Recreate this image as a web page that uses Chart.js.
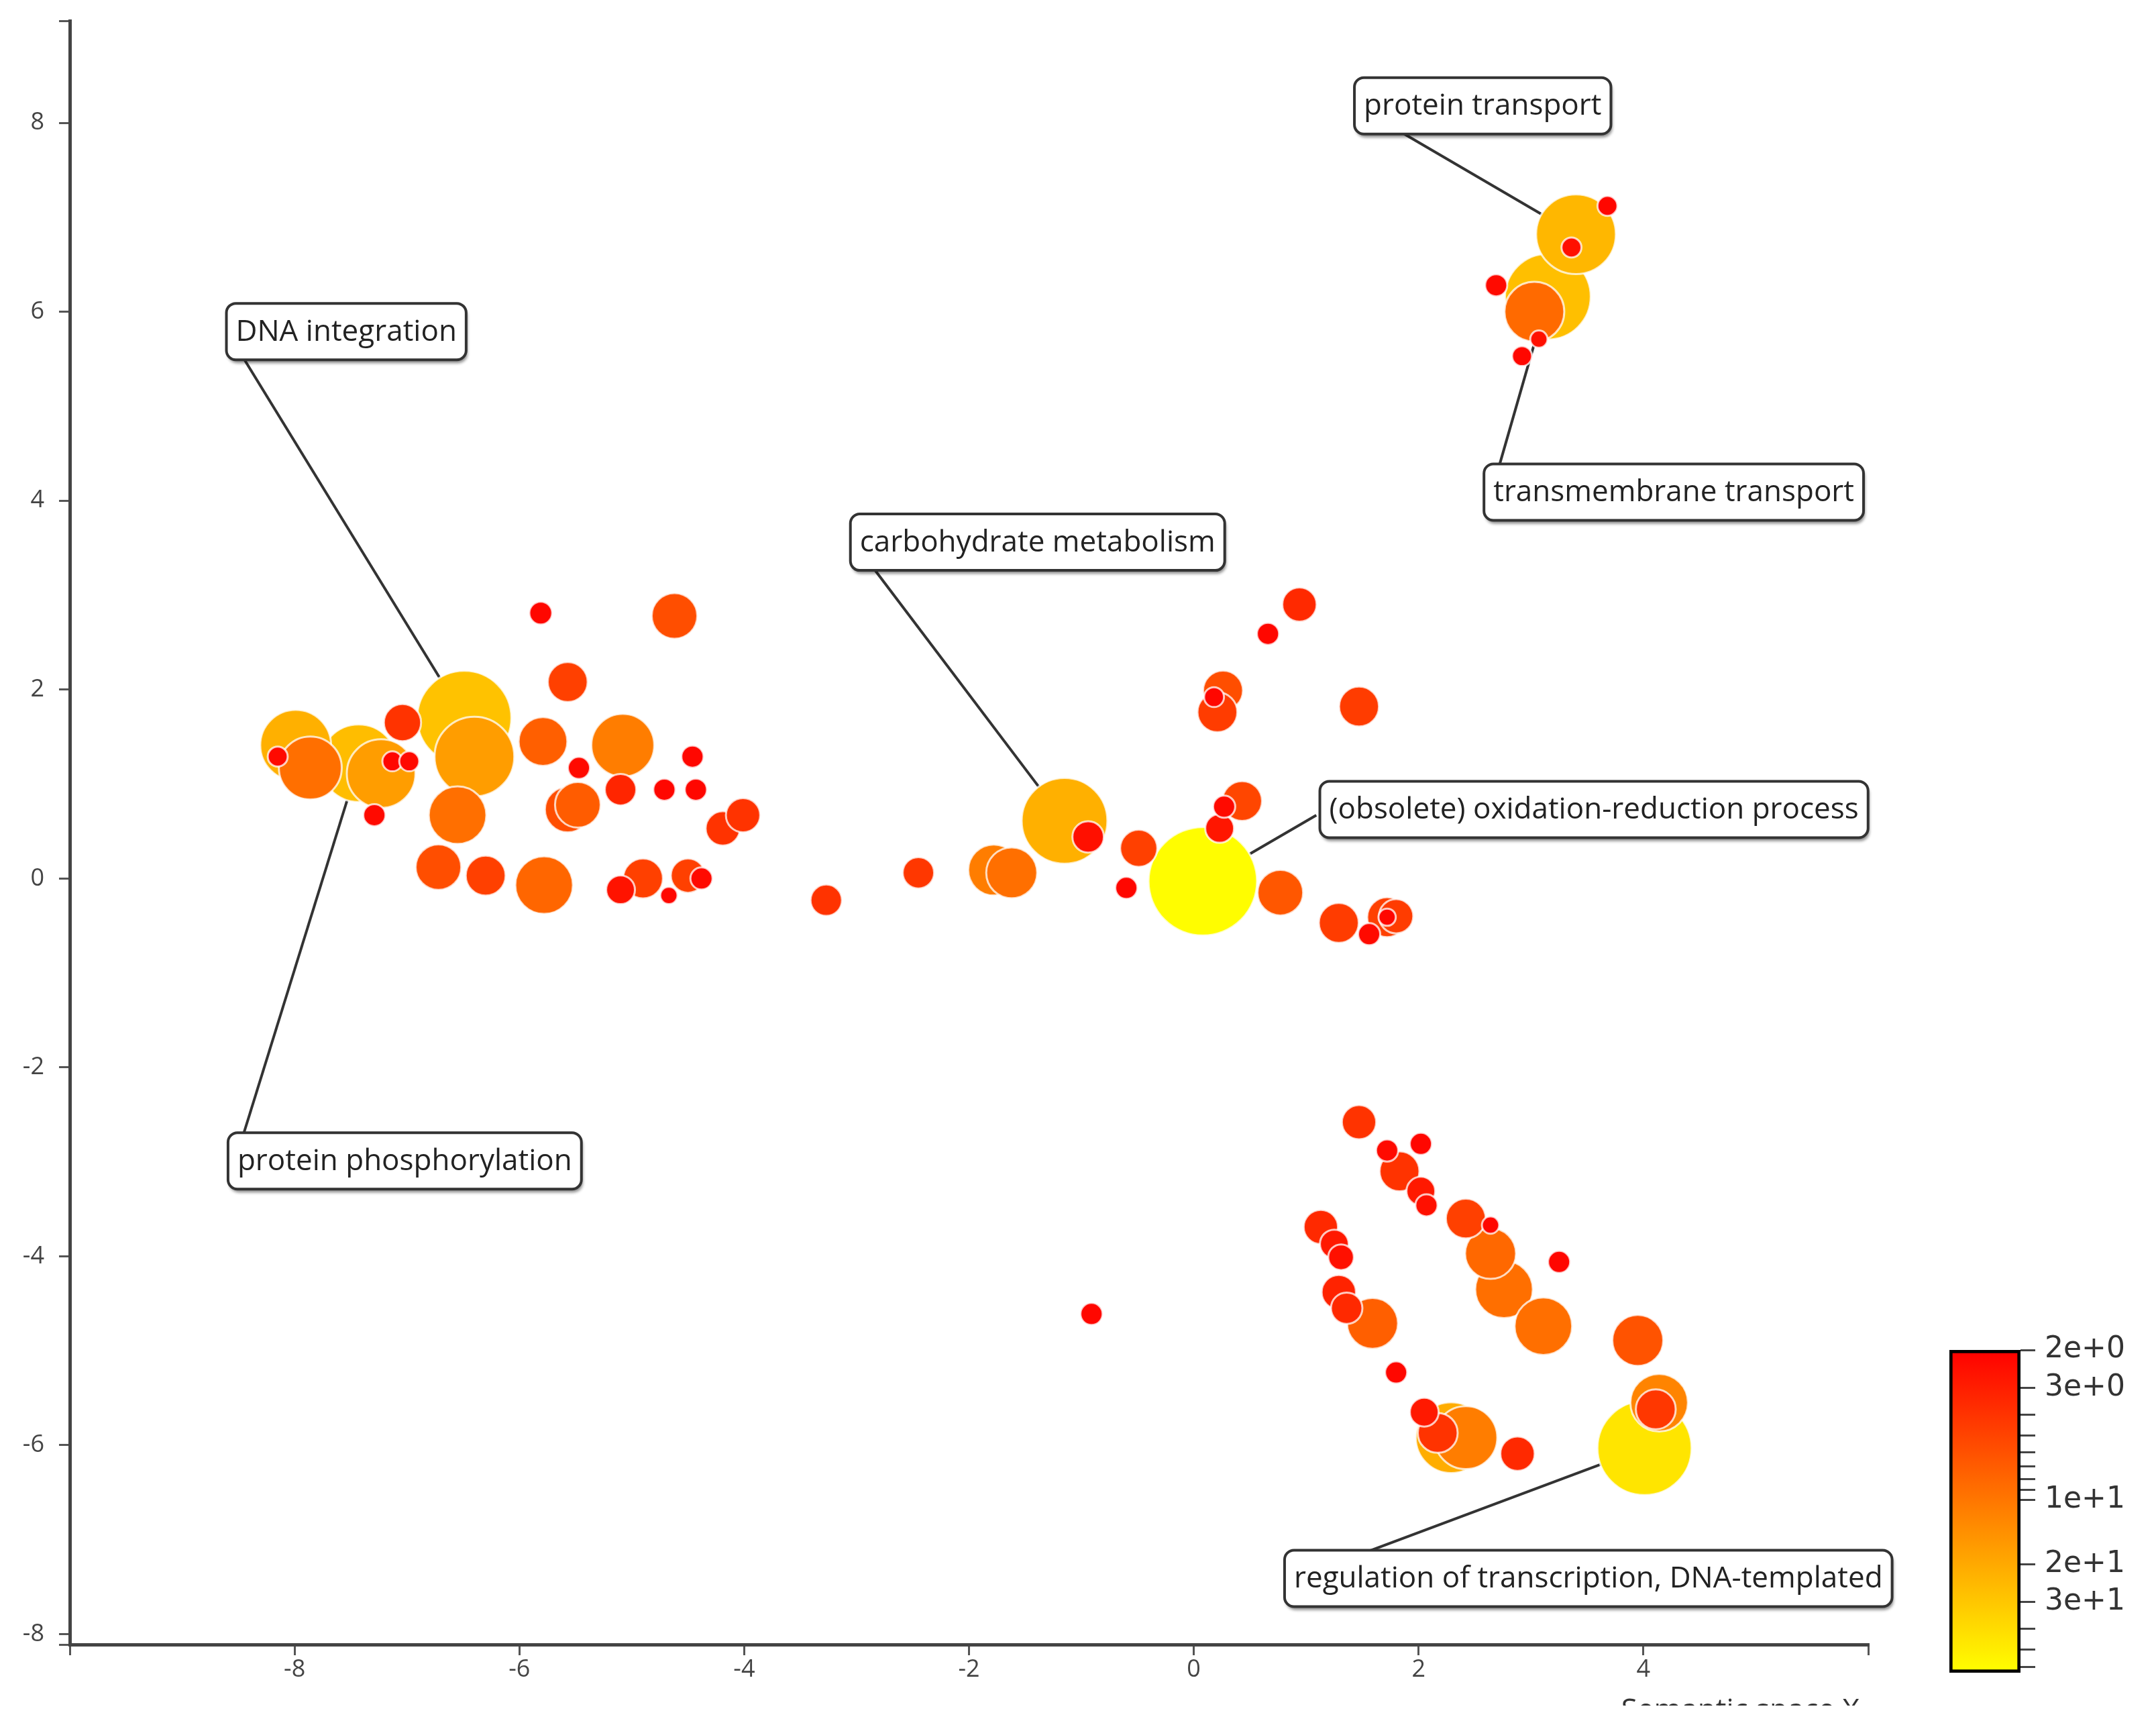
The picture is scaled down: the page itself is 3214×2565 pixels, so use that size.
<!DOCTYPE html>
<html>
<head>
<meta charset="utf-8">
<script src="https://cdn.jsdelivr.net/npm/chart.js@4.4.1/dist/chart.umd.min.js"></script>
<style>
html, body { margin: 0; padding: 0; background: #fff; }
#wrap { position: relative; width: 3214px; height: 2565px; overflow: hidden; }
#main { position: absolute; left: 0; top: 0; }
#cbar { position: absolute; left: 2870px; top: 1980px; }
</style>
</head>
<body>
<div id="wrap">
  <canvas id="main" width="3214" height="2565"></canvas>
  <canvas id="cbar" width="344" height="540"></canvas>
</div>
<script>
// semantic space coordinates of each GO term
const semX = [
  -5.81, -4.62, -5.57, -7.04, -7.99, -7.86, -8.15, -7.43, -7.23, -7.13,
  -6.98, -7.29, -6.49, -6.40, -6.55, -5.79, -5.08, -5.47, -5.57, -5.48,
  -5.10, -4.71, -4.43, -4.46, -4.19, -4.01, -6.72, -6.30, -5.78, -5.10,
  -4.90, -4.67, -4.50, -4.38, -3.27, -2.45, -1.78, -1.62, -1.15, -0.94,
  -0.49, -0.60, 0.08, 0.77, 0.43, 0.27, 0.23, 0.26, 0.21, 0.18,
  0.66, 0.94, 1.47, 1.29, 1.56, 1.72, 1.80, 1.72, 3.40, 3.15,
  3.03, 3.68, 3.36, 2.69, 2.92, 3.07, -0.91, 1.47, 1.72, 2.02,
  1.83, 2.02, 2.07, 1.13, 1.25, 1.31, 1.29, 1.36, 1.59, 2.42,
  2.64, 2.64, 2.76, 3.11, 3.25, 1.80, 2.05, 2.29, 2.42, 2.17,
  2.88, 3.95, 4.14, 4.11, 4.01
];
const semY = [
  2.81, 2.78, 2.08, 1.65, 1.41, 1.17, 1.29, 1.22, 1.11, 1.24,
  1.24, 0.67, 1.70, 1.29, 0.67, 1.45, 1.41, 1.17, 0.73, 0.78,
  0.94, 0.94, 0.94, 1.29, 0.53, 0.67, 0.12, 0.03, -0.07, -0.12,
  0.00, -0.18, 0.03, 0.00, -0.23, 0.06, 0.09, 0.06, 0.61, 0.44,
  0.32, -0.10, -0.03, -0.15, 0.82, 0.76, 0.53, 1.99, 1.76, 1.92,
  2.59, 2.90, 1.82, -0.47, -0.59, -0.41, -0.40, -0.41, 6.82, 6.16,
  6.00, 7.12, 6.68, 6.28, 5.53, 5.71, -4.61, -2.58, -2.88, -2.81,
  -3.10, -3.31, -3.46, -3.69, -3.87, -4.01, -4.38, -4.55, -4.71, -3.60,
  -3.67, -3.97, -4.35, -4.74, -4.06, -5.23, -5.65, -5.92, -5.92, -5.87,
  -6.09, -4.89, -5.55, -5.62, -6.03
];
// log10 term size -> bubble size
const logSize = [
  1.03, 2.06, 1.80, 1.68, 3.20, 2.84, 0.90, 3.50, 3.10, 0.90,
  0.90, 1.00, 4.25, 3.60, 2.60, 2.20, 2.84, 1.00, 2.06, 2.06,
  1.42, 1.00, 1.00, 1.00, 1.55, 1.55, 2.06, 1.80, 2.60, 1.30,
  1.80, 0.78, 1.55, 1.00, 1.42, 1.42, 2.30, 2.30, 3.87, 1.42,
  1.68, 1.00, 4.90, 2.06, 1.80, 1.00, 1.30, 1.80, 1.80, 0.90,
  1.00, 1.55, 1.80, 1.80, 1.00, 1.80, 1.55, 0.78, 3.60, 3.87,
  2.70, 0.90, 0.90, 1.00, 0.90, 0.78, 1.00, 1.55, 1.00, 1.00,
  1.80, 1.30, 1.00, 1.55, 1.30, 1.16, 1.55, 1.42, 2.30, 1.80,
  0.78, 2.30, 2.60, 2.60, 1.00, 1.00, 1.30, 3.20, 2.84, 1.80,
  1.55, 2.30, 2.60, 1.80, 4.25
];
// value shown by the colour bar
const colorValue = [
  2.2, 5.8, 4.8, 4.0, 22, 9.0, 2.3, 26, 17, 2.2,
  2.3, 2.3, 28, 17, 9.0, 7.3, 11, 2.3, 5.8, 7.0,
  3.3, 2.2, 2.2, 2.2, 4.0, 4.0, 5.8, 4.8, 8.0, 2.6,
  4.8, 2.2, 4.8, 2.3, 4.0, 4.2, 11, 9.0, 22, 2.5,
  4.8, 2.2, 62, 6.5, 5.2, 2.3, 2.7, 5.8, 4.5, 2.2,
  2.2, 3.5, 4.5, 4.5, 2.3, 4.8, 4.5, 2.2, 24, 27,
  8.5, 2.2, 2.5, 2.3, 2.2, 2.5, 2.2, 4.0, 2.3, 2.2,
  4.0, 2.8, 2.5, 3.5, 2.8, 2.5, 3.2, 3.5, 7.3, 4.8,
  2.2, 8.2, 9.0, 9.0, 2.2, 2.2, 2.8, 21, 11, 4.0,
  3.5, 6.2, 12, 4.2, 45
];

const xTicks = [-10, -8, -6, -4, -2, 0, 2, 4, 6];
const yTicks = [-8.11, -8, -6, -4, -2, 0, 2, 4, 6, 8, 9.08];
const cbarTicks = [2, 3, 4, 5, 6, 7, 8, 9, 10, 20, 30, 40, 50, 60];
const cbarLabels = [2, 3, 10, 20, 30];

const calloutText = [
  'protein transport',
  'DNA integration',
  'transmembrane transport',
  'carbohydrate metabolism',
  '(obsolete) oxidation-reduction process',
  'protein phosphorylation',
  'regulation of transcription, DNA-templated'
];
const calloutTarget = [58, 12, 59, 38, 42, 7, 94];

// where each callout box sits (centre) and where its line starts, in axis units
const calloutLayout = [
  { box: [2.57, 8.18], from: [1.86, 7.89] },
  { box: [-7.54, 5.79], from: [-8.45, 5.50] },
  { box: [4.27, 4.09], from: [2.72, 4.38] },
  { box: [-1.39, 3.56], from: [-2.84, 3.27] },
  { box: [3.56, 0.73], from: [1.09, 0.67] },
  { box: [-7.02, -2.99], from: [-8.45, -2.69] },
  { box: [3.51, -7.41], from: [1.56, -7.12] }
];

const CBAR_MIN = 2, CBAR_MAX = 64;
const FONT = "'Open Sans', 'DejaVu Sans', sans-serif";

function colorFor(v) {
  let t = Math.log(v / CBAR_MIN) / Math.log(CBAR_MAX / CBAR_MIN);
  t = Math.max(0, Math.min(1, t));
  return 'rgb(255,' + Math.round(255 * t) + ',0)';
}

// big bubbles first so the small ones stay visible on top
const points = semX.map((x, i) => ({ x: x, y: semY[i], r: logSize[i] * 16.5, v: colorValue[i] }))
  .sort((a, b) => b.r - a.r);

function noPadding(s) {
  s.paddingTop = 0;
  s.paddingBottom = 0;
  s.paddingLeft = 0;
  s.paddingRight = 0;
}

const calloutPlugin = {
  id: 'callouts',
  beforeDatasetsDraw(chart) {
    const { ctx, scales: { x, y } } = chart;
    ctx.save();
    ctx.strokeStyle = '#333';
    ctx.lineWidth = 4;
    calloutLayout.forEach((c, i) => {
      const t = calloutTarget[i];
      ctx.beginPath();
      ctx.moveTo(x.getPixelForValue(c.from[0]), y.getPixelForValue(c.from[1]));
      ctx.lineTo(x.getPixelForValue(semX[t]), y.getPixelForValue(semY[t]));
      ctx.stroke();
    });
    ctx.restore();
  },
  afterDatasetsDraw(chart) {
    const { ctx, scales: { x, y } } = chart;
    ctx.save();
    ctx.font = '44px ' + FONT;
    calloutLayout.forEach((c, i) => {
      const w = ctx.measureText(calloutText[i]).width + 28;
      const h = 84;
      const cx = x.getPixelForValue(c.box[0]);
      const cy = y.getPixelForValue(c.box[1]);
      ctx.beginPath();
      ctx.roundRect(cx - w / 2, cy - h / 2, w, h, 14);
      ctx.shadowColor = 'rgba(0,0,0,0.45)';
      ctx.shadowOffsetX = 2;
      ctx.shadowOffsetY = 5;
      ctx.shadowBlur = 4;
      ctx.fillStyle = '#fff';
      ctx.fill();
      ctx.shadowColor = 'transparent';
      ctx.strokeStyle = '#333';
      ctx.lineWidth = 4;
      ctx.stroke();
      ctx.fillStyle = '#222';
      ctx.textAlign = 'center';
      ctx.textBaseline = 'middle';
      ctx.fillText(calloutText[i], cx, cy + 1);
    });
    ctx.restore();
  },
  afterDraw(chart) {
    // axis title, cut off at the bottom like the original
    const ctx = chart.ctx;
    ctx.save();
    ctx.beginPath();
    ctx.rect(0, 0, chart.width, 2542);
    ctx.clip();
    ctx.font = '44px ' + FONT;
    ctx.fillStyle = '#333';
    ctx.textAlign = 'right';
    ctx.textBaseline = 'alphabetic';
    ctx.fillText('Semantic space X', 2772, 2563);
    ctx.restore();
  }
};

const axisGrid = { display: true, drawOnChartArea: false, drawTicks: true, tickLength: 16, lineWidth: 3, color: '#555' };
const axisBorder = { display: true, color: '#444', width: 5 };

new Chart(document.getElementById('main'), {
  type: 'bubble',
  data: {
    datasets: [{
      data: points,
      backgroundColor: points.map(p => colorFor(p.v)),
      borderColor: 'rgba(255,255,255,0.75)',
      borderWidth: 3
    }]
  },
  options: {
    responsive: false,
    animation: false,
    devicePixelRatio: 1,
    layout: { autoPadding: false, padding: { left: 0, top: 31, right: 429, bottom: 0 } },
    plugins: { legend: { display: false }, tooltip: { enabled: false } },
    scales: {
      x: {
        type: 'linear',
        min: xTicks[0],
        max: xTicks[xTicks.length - 1],
        afterBuildTicks: s => { s.ticks = xTicks.map(v => ({ value: v })); },
        afterFit: s => { s.height = 114; noPadding(s); },
        ticks: {
          font: { family: FONT, size: 36 },
          color: '#444',
          padding: 0,
          callback: v => (v === xTicks[0] || v === xTicks[xTicks.length - 1]) ? '' : String(v)
        },
        grid: axisGrid,
        border: axisBorder
      },
      y: {
        type: 'linear',
        min: yTicks[0],
        max: yTicks[yTicks.length - 1],
        afterBuildTicks: s => { s.ticks = yTicks.map(v => ({ value: v })); },
        afterFit: s => { s.width = 104; noPadding(s); },
        ticks: {
          font: { family: FONT, size: 36 },
          color: '#444',
          padding: 22,
          callback: v => (v === yTicks[0] || v === yTicks[yTicks.length - 1]) ? '' : String(v)
        },
        grid: axisGrid,
        border: axisBorder
      }
    }
  },
  plugins: [calloutPlugin]
});

// colour bar
new Chart(document.getElementById('cbar'), {
  type: 'bar',
  data: {
    labels: [''],
    datasets: [{
      data: [[CBAR_MIN, CBAR_MAX]],
      backgroundColor: ctx => {
        const ca = ctx.chart.chartArea;
        if (!ca) return 'red';
        const g = ctx.chart.ctx.createLinearGradient(0, ca.top, 0, ca.bottom);
        g.addColorStop(0, 'rgb(255,0,0)');
        g.addColorStop(1, 'rgb(255,255,0)');
        return g;
      },
      borderColor: '#000',
      borderWidth: 5,
      borderSkipped: false,
      barPercentage: 1,
      categoryPercentage: 1
    }]
  },
  options: {
    responsive: false,
    animation: false,
    devicePixelRatio: 1,
    layout: { autoPadding: false, padding: { left: 36, top: 32, right: 0, bottom: 27 } },
    plugins: { legend: { display: false }, tooltip: { enabled: false } },
    scales: {
      x: { display: false },
      y: {
        type: 'logarithmic',
        position: 'right',
        reverse: true,
        min: CBAR_MIN,
        max: CBAR_MAX,
        afterBuildTicks: s => { s.ticks = cbarTicks.map(v => ({ value: v })); },
        afterFit: s => { s.width = 202; noPadding(s); },
        ticks: {
          autoSkip: false,
          font: { family: "'DejaVu Sans', sans-serif", size: 44 },
          color: '#333',
          padding: 14,
          callback: v => cbarLabels.includes(v) ? v.toExponential(0) : ''
        },
        grid: { display: true, drawOnChartArea: false, drawTicks: true, tickLength: 22, lineWidth: 3, color: '#444' },
        border: { display: false }
      }
    }
  }
});
</script>
</body>
</html>
